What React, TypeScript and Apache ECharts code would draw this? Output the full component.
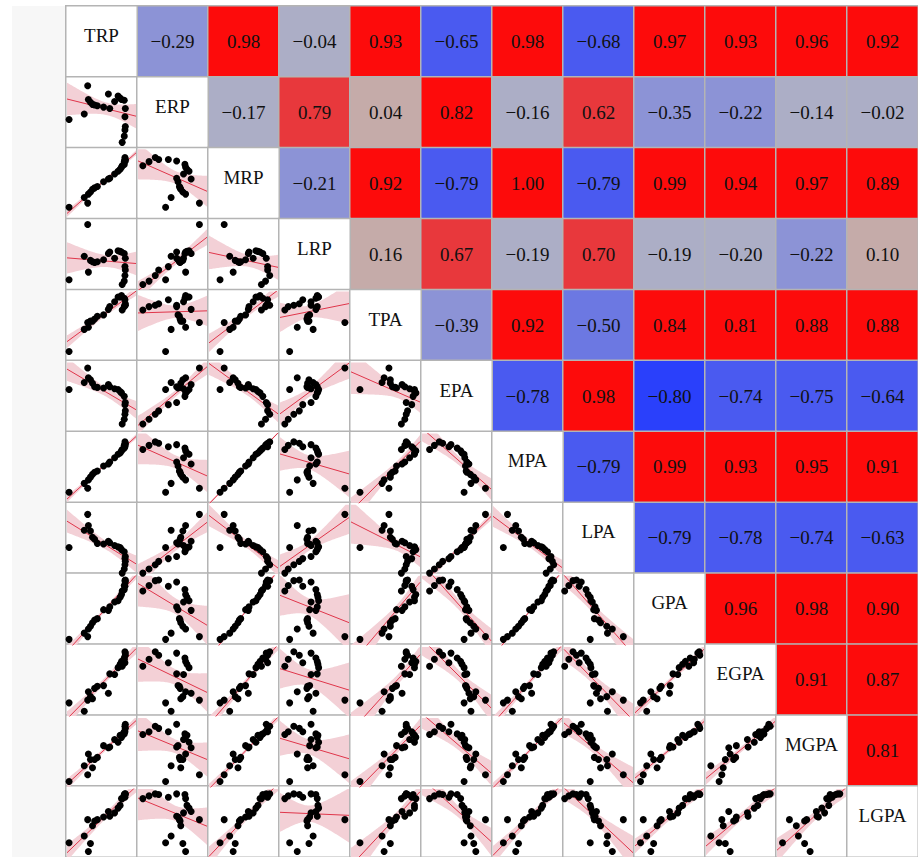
import React, { useEffect, useRef } from 'react';
import * as echarts from 'echarts';

const VARS = ['TRP', 'ERP', 'MRP', 'LRP', 'TPA', 'EPA', 'MPA', 'LPA', 'GPA', 'EGPA', 'MGPA', 'LGPA'];

// correlation coefficients, upper triangle, row by row (each row lists the columns to the right of the diagonal)
const corrTRP = [-0.29, 0.98, -0.04, 0.93, -0.65, 0.98, -0.68, 0.97, 0.93, 0.96, 0.92];
const corrERP = [-0.17, 0.79, 0.04, 0.82, -0.16, 0.62, -0.35, -0.22, -0.14, -0.02];
const corrMRP = [-0.21, 0.92, -0.79, 1.0, -0.79, 0.99, 0.94, 0.97, 0.89];
const corrLRP = [0.16, 0.67, -0.19, 0.7, -0.19, -0.2, -0.22, 0.1];
const corrTPA = [-0.39, 0.92, -0.5, 0.84, 0.81, 0.88, 0.88];
const corrEPA = [-0.78, 0.98, -0.8, -0.74, -0.75, -0.64];
const corrMPA = [-0.79, 0.99, 0.93, 0.95, 0.91];
const corrLPA = [-0.79, -0.78, -0.74, -0.63];
const corrGPA = [0.96, 0.98, 0.9];
const corrEGPA = [0.91, 0.87];
const corrMGPA = [0.81];
const CORR_ROWS = [corrTRP, corrERP, corrMRP, corrLRP, corrTPA, corrEPA, corrMPA, corrLPA, corrGPA, corrEGPA, corrMGPA];

// observations (scaled position within each panel, 0..1), 22 samples
const TRP = [0.03, 0.25, 0.3, 0.31, 0.34, 0.37, 0.4, 0.44, 0.53, 0.6, 0.62, 0.69, 0.74, 0.77, 0.79, 0.83, 0.845, 0.84, 0.845, 0.84, 0.83, 0.8];
const ERP = [0.4, 0.48, 0.89, 0.69, 0.65, 0.62, 0.61, 0.6, 0.58, 0.77, 0.56, 0.66, 0.74, 0.71, 0.69, 0.68, 0.56, 0.44, 0.3, 0.25, 0.16, 0.07];
const MRP = [0.16, 0.3, 0.22, 0.35, 0.38, 0.42, 0.44, 0.46, 0.53, 0.57, 0.58, 0.64, 0.68, 0.71, 0.74, 0.78, 0.83, 0.85, 0.85, 0.88, 0.82, 0.76];
const LRP = [0.14, 0.48, 0.94, 0.25, 0.42, 0.4, 0.39, 0.4, 0.43, 0.52, 0.54, 0.45, 0.56, 0.55, 0.54, 0.52, 0.45, 0.33, 0.28, 0.2, 0.12, 0.07];
const TPA = [0.13, 0.45, 0.55, 0.48, 0.57, 0.57, 0.6, 0.64, 0.66, 0.74, 0.78, 0.85, 0.92, 0.92, 0.94, 0.9, 0.8, 0.88, 0.82, 0.8, 0.78, 0.73];
const EPA = [0.61, 0.71, 0.92, 0.78, 0.75, 0.7, 0.65, 0.64, 0.63, 0.68, 0.65, 0.62, 0.61, 0.58, 0.56, 0.51, 0.42, 0.39, 0.3, 0.25, 0.18, 0.11];
const MPA = [0.15, 0.28, 0.21, 0.33, 0.37, 0.41, 0.44, 0.46, 0.53, 0.56, 0.59, 0.65, 0.7, 0.72, 0.75, 0.79, 0.84, 0.81, 0.86, 0.88, 0.83, 0.77];
const LPA = [0.38, 0.63, 0.86, 0.7, 0.62, 0.53, 0.5, 0.44, 0.43, 0.47, 0.45, 0.41, 0.39, 0.38, 0.35, 0.32, 0.25, 0.22, 0.18, 0.13, 0.07, 0.01];
const GPA = [0.08, 0.17, 0.12, 0.23, 0.27, 0.32, 0.36, 0.38, 0.51, 0.5, 0.55, 0.62, 0.64, 0.69, 0.73, 0.8, 0.91, 0.85, 0.94, 0.93, 0.86, 0.78];
const EGPA = [0.19, 0.07, 0.23, 0.35, 0.28, 0.25, 0.4, 0.43, 0.44, 0.33, 0.61, 0.6, 0.7, 0.75, 0.79, 0.84, 0.91, 0.77, 0.88, 0.93, 0.82, 0.72];
const MGPA = [0.08, 0.31, 0.18, 0.48, 0.4, 0.28, 0.4, 0.43, 0.6, 0.57, 0.58, 0.69, 0.65, 0.75, 0.72, 0.77, 0.91, 0.8, 0.85, 0.88, 0.8, 0.76];
const LGPA = [0.21, 0.31, 0.55, 0.08, 0.2, 0.46, 0.53, 0.55, 0.59, 0.67, 0.6, 0.65, 0.72, 0.76, 0.86, 0.92, 0.93, 0.88, 0.92, 0.93, 0.9, 0.86];
const OBS = [TRP, ERP, MRP, LRP, TPA, EPA, MPA, LPA, GPA, EGPA, MGPA, LGPA];

const X0 = 66;
const Y0 = 6;
const CW = 71;
const CH = 71.1;
const FONT = '"Liberation Serif", "Times New Roman", serif';

function fmt(r: number) {
  return (r < 0 ? '\u2212' : '') + Math.abs(r).toFixed(2);
}

function regress(xs: number[], ys: number[]) {
  const n = xs.length;
  const mx = xs.reduce((a, b) => a + b, 0) / n;
  const my = ys.reduce((a, b) => a + b, 0) / n;
  let sxx = 0, sxy = 0;
  for (let i = 0; i < n; i++) {
    sxx += (xs[i] - mx) * (xs[i] - mx);
    sxy += (xs[i] - mx) * (ys[i] - my);
  }
  const b1 = sxy / sxx;
  const b0 = my - b1 * mx;
  let sse = 0;
  for (let i = 0; i < n; i++) {
    const e = ys[i] - (b0 + b1 * xs[i]);
    sse += e * e;
  }
  const s = Math.sqrt(sse / (n - 2));
  return { b0, b1, s, mx, sxx, n };
}

const clamp01 = (v: number) => Math.max(0, Math.min(1, v));

export default function App() {
  const ref = useRef<HTMLDivElement>(null);
  useEffect(() => {
    document.body.style.margin = '0';
    const chart = echarts.init(ref.current!, null, { renderer: 'svg' });

    const upper: any[] = [];
    CORR_ROWS.forEach((row, i) => {
      row.forEach((r, k) => upper.push([i + 1 + k, i, r]));
    });
    // diagonal cells carry code 2, lower cells code 3 (both drawn white)
    const whiteCells: any[] = [];
    for (let i = 0; i < 12; i++) for (let j = 0; j <= i; j++) whiteCells.push([j, i, i === j ? 2 : 3]);

    const grids: any[] = [{ left: X0, top: Y0, width: CW * 12, height: CH * 12 }];
    const xAxes: any[] = [{ type: 'category', data: VARS, show: false, gridIndex: 0 }];
    const yAxes: any[] = [{ type: 'category', data: VARS, show: false, inverse: true, gridIndex: 0 }];
    const series: any[] = [
      {
        type: 'heatmap', xAxisIndex: 0, yAxisIndex: 0, data: upper, z: 1,
        itemStyle: { borderColor: '#b4b4b4', borderWidth: 1.5 },
        label: {
          show: true, fontFamily: FONT, fontSize: 19, color: '#111',
          formatter: (p: any) => fmt(p.value[2]),
        },
      },
      {
        type: 'heatmap', xAxisIndex: 0, yAxisIndex: 0, data: whiteCells, z: 1,
        itemStyle: { borderColor: '#b4b4b4', borderWidth: 1.5 },
        label: {
          show: true, fontFamily: FONT, fontSize: 19, color: '#111', offset: [0, -6],
          formatter: (p: any) => (p.value[0] === p.value[1] ? VARS[p.value[0]] : ''),
        },
      },
    ];

    const xsGrid: number[] = [];
    for (let t = 0; t <= 60; t++) xsGrid.push(t / 60);
    const T = 2.086;

    let k = 0;
    for (let i = 1; i < 12; i++) {
      for (let j = 0; j < i; j++) {
        k++;
        grids.push({ left: X0 + j * CW + 1, top: Y0 + i * CH + 1, width: CW - 2, height: CH - 2 });
        xAxes.push({ type: 'value', min: 0, max: 1, show: false, gridIndex: k });
        yAxes.push({ type: 'value', min: 0, max: 1, show: false, gridIndex: k });
        const xs = OBS[j];
        const ys = OBS[i];
        const f = regress(xs, ys);
        const upperPts: number[][] = [];
        const lowerPts: number[][] = [];
        xsGrid.forEach((x) => {
          const yh = f.b0 + f.b1 * x;
          const se = f.s * Math.sqrt(1 / f.n + ((x - f.mx) * (x - f.mx)) / f.sxx);
          upperPts.push([x, clamp01(yh + T * se)]);
          lowerPts.push([x, clamp01(yh - T * se)]);
        });
        const poly = upperPts.concat(lowerPts.slice().reverse());
        series.push({
          type: 'custom', xAxisIndex: k, yAxisIndex: k, silent: true, z: 2,
          data: [[0.5, 0.5]],
          renderItem: (_params: any, api: any) => ({
            type: 'polygon',
            shape: { points: poly.map((p) => api.coord(p)) },
            style: { fill: '#f3d0d6', stroke: 'none' },
          }),
        });
        series.push({
          type: 'line', xAxisIndex: k, yAxisIndex: k, symbol: 'none', silent: true, z: 3,
          data: [[0, f.b0], [1, f.b0 + f.b1]],
          lineStyle: { color: '#e0354a', width: 1 },
        });
        series.push({
          type: 'scatter', xAxisIndex: k, yAxisIndex: k, symbolSize: 7, silent: true, z: 4,
          itemStyle: { color: '#000', opacity: 1 },
          data: xs.map((x, n) => [x, ys[n]]),
        });
      }
    }

    chart.setOption({
      animation: false,
      backgroundColor: '#ffffff',
      graphic: [
        { type: 'rect', shape: { x: 12, y: 6, width: 53, height: 851 }, style: { fill: '#f7f7f7' }, z: 0 },
      ],
      visualMap: {
        type: 'piecewise', show: false, seriesIndex: [0, 1], dimension: 2,
        pieces: [
          { min: -1, max: -0.795, color: '#2a40fb' },
          { min: -0.795, max: -0.6, color: '#4a5af0' },
          { min: -0.6, max: -0.4, color: '#6c78e2' },
          { min: -0.4, max: -0.205, color: '#8c93d6' },
          { min: -0.205, max: 0, color: '#acaec6' },
          { min: 0, max: 0.2, color: '#c5aba9' },
          { min: 0.2, max: 0.4, color: '#d48a8d' },
          { min: 0.4, max: 0.6, color: '#e06266' },
          { min: 0.6, max: 0.8, color: '#e8383c' },
          { min: 0.8, max: 1, color: '#fd0b0b' },
          { min: 1.5, max: 3.5, color: '#ffffff' },
        ],
      },
      grid: grids,
      xAxis: xAxes,
      yAxis: yAxes,
      series,
    });
    return () => chart.dispose();
  }, []);
  return <div ref={ref} style={{ width: 918, height: 857 }} />;
}
